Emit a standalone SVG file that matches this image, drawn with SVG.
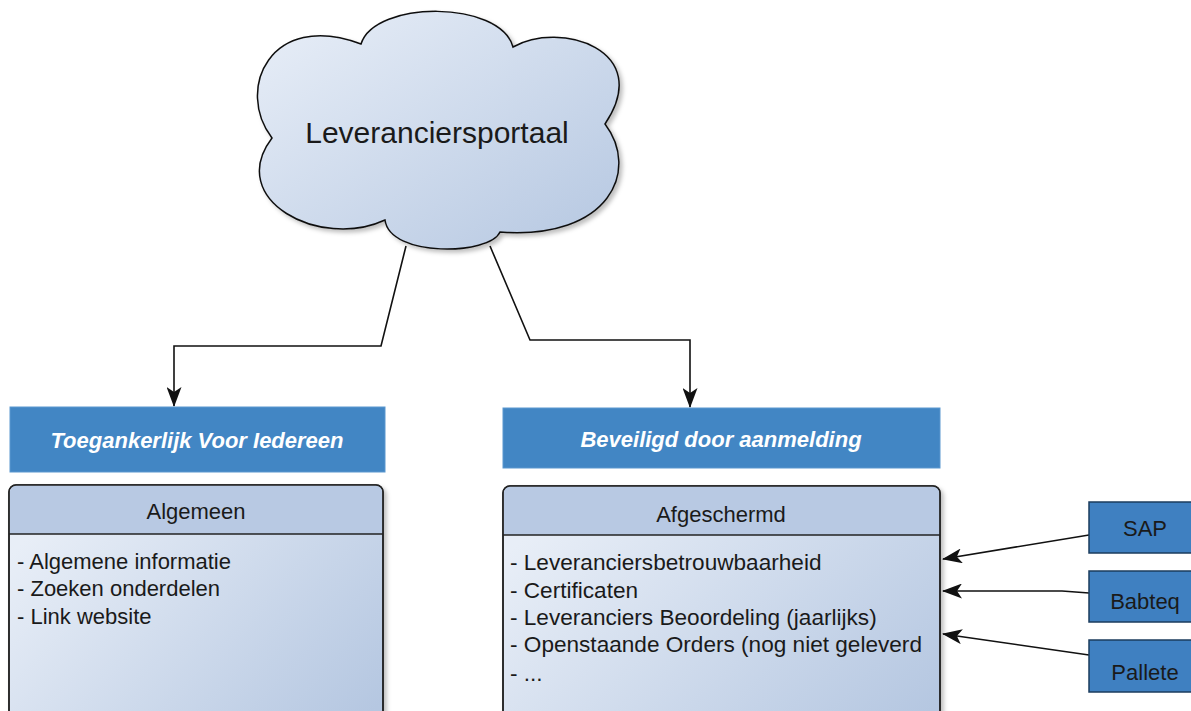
<svg xmlns="http://www.w3.org/2000/svg" width="1191" height="711" viewBox="0 0 1191 711">
<style>
text{font-family:"Liberation Sans",Arial,sans-serif;fill:#1a1a1a}
.hdr{font-size:22px;font-weight:bold;font-style:italic;fill:#fff;text-anchor:middle}
.ttl{font-size:22px;text-anchor:middle}
.item{font-size:22px}
.item2{font-size:22.6px}
.ext{font-size:22px;text-anchor:middle}
.blue{fill:#4286c4;stroke:#5a97cf;stroke-width:1}
.sys{fill:#3f80c1;stroke:#1b3c5e;stroke-width:1.5}
.cont{fill:url(#bodyGrad);stroke:#222;stroke-width:1.5}
.conth{fill:#b8c9e3}
.conn{fill:none;stroke:#111;stroke-width:1.6}
</style>
<defs>
<linearGradient id="cloudGrad" x1="0" y1="0" x2="1" y2="1">
<stop offset="0" stop-color="#e9eff8"/>
<stop offset="1" stop-color="#b5c7e1"/>
</linearGradient>
<linearGradient id="bodyGrad" x1="0" y1="0.3" x2="1" y2="0.9">
<stop offset="0" stop-color="#e8eef7"/>
<stop offset="1" stop-color="#b5c7e1"/>
</linearGradient>
<filter id="sh" x="-5%" y="-5%" width="115%" height="115%">
<feDropShadow dx="3" dy="3" stdDeviation="2" flood-color="#000" flood-opacity="0.25"/>
</filter>
<marker id="arr" viewBox="0 0 20 15" refX="19" refY="7.5" markerWidth="20" markerHeight="15" markerUnits="userSpaceOnUse" orient="auto">
<path d="M0,0 L20,7.5 L0,15 L5,7.5 Z" fill="#111"/>
</marker>
</defs>

<g id="cloud">
<path d="M361 44 C375 0 500 0 513 47 C560 20 655 50 605 124 C640 170 610 240 500 232 C490 255 390 258 385 220 C320 250 225 200 272 138 C235 90 270 10 361 44 Z" fill="url(#cloudGrad)" stroke="#111" stroke-width="1.5" filter="url(#sh)"/>
<text x="437" y="143" font-size="30" text-anchor="middle">Leveranciersportaal</text>
</g>

<g id="connectors">
<polyline class="conn" points="406,246 381,346 174,346 174,406" marker-end="url(#arr)"/>
<polyline class="conn" points="490,246 530,340 690,340 690,407" marker-end="url(#arr)"/>
<line class="conn" x1="1089" y1="535" x2="943" y2="559" marker-end="url(#arr)"/>
<polyline class="conn" points="1089,593 1062,591 943,591" marker-end="url(#arr)"/>
<line class="conn" x1="1089" y1="655" x2="943" y2="634" marker-end="url(#arr)"/>
</g>

<g id="hdr-left">
<rect class="blue" x="10" y="407" width="375" height="65"/>
<text class="hdr" x="197" y="448">Toegankerlijk Voor Iedereen</text>
</g>

<g id="hdr-right">
<rect class="blue" x="503" y="408" width="437" height="60"/>
<text class="hdr" x="721" y="447">Beveiligd door aanmelding</text>
</g>

<g id="algemeen">
<rect class="cont" x="9" y="485" width="374" height="240" rx="7" filter="url(#sh)"/>
<path class="conth" d="M9.75 534 V492 a7 7 0 0 1 7 -7 H375.25 a7 7 0 0 1 7 7 V534 Z"/>
<rect x="9" y="485" width="374" height="240" rx="7" fill="none" stroke="#222" stroke-width="1.5"/>
<line x1="9" y1="534" x2="383" y2="534" stroke="#222" stroke-width="1.5"/>
<text class="ttl" x="196" y="519">Algemeen</text>
<text class="item" x="17" y="569">- Algemene informatie</text>
<text class="item" x="17" y="596">- Zoeken onderdelen</text>
<text class="item" x="17" y="624">- Link website</text>
</g>

<g id="afgeschermd">
<rect class="cont" x="503" y="486" width="437" height="240" rx="7" filter="url(#sh)"/>
<path class="conth" d="M503.75 535 V493 a7 7 0 0 1 7 -7 H932.25 a7 7 0 0 1 7 7 V535 Z"/>
<rect x="503" y="486" width="437" height="240" rx="7" fill="none" stroke="#222" stroke-width="1.5"/>
<line x1="503" y1="535" x2="940" y2="535" stroke="#222" stroke-width="1.5"/>
<text class="ttl" x="721" y="522">Afgeschermd</text>
<text class="item2" x="510" y="570">- Leveranciersbetrouwbaarheid</text>
<text class="item2" x="510" y="598">- Certificaten</text>
<text class="item2" x="510" y="625">- Leveranciers Beoordeling (jaarlijks)</text>
<text class="item2" x="510" y="652">- Openstaande Orders (nog niet geleverd</text>
<text class="item2" x="510" y="681">- ...</text>
</g>

<g id="sap">
<rect class="sys" x="1089" y="502" width="110" height="51"/>
<text class="ext" x="1145" y="536">SAP</text>
</g>
<g id="babteq">
<rect class="sys" x="1089" y="571" width="110" height="51"/>
<text class="ext" x="1145" y="609">Babteq</text>
</g>
<g id="pallete">
<rect class="sys" x="1089" y="640" width="110" height="52"/>
<text class="ext" x="1145" y="680">Pallete</text>
</g>
</svg>
